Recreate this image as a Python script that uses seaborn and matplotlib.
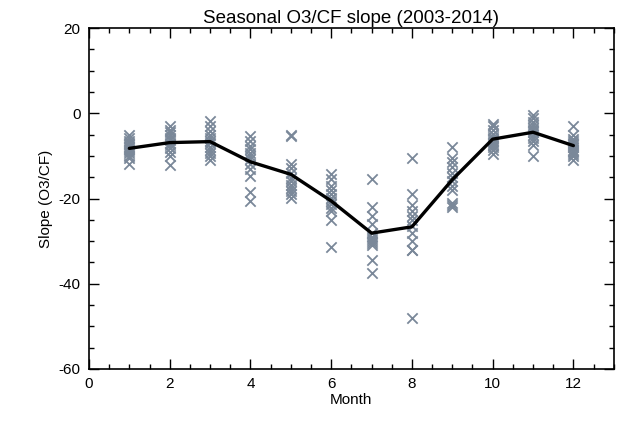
import numpy as np
import pandas as pd
import seaborn as sns
import matplotlib.pyplot as plt
from matplotlib.ticker import MultipleLocator

# slopes per month, 12 years (2003-2014)
months = list(range(1, 13))
m01 = [-5.2, -5.8, -6.5, -7.0, -7.5, -8.0, -8.3, -8.8, -9.3, -10.0, -10.5, -11.8]
m02 = [-3.0, -3.8, -4.5, -5.2, -5.8, -6.3, -7.0, -7.5, -8.2, -9.0, -10.0, -12.2]
m03 = [-1.8, -3.0, -4.2, -5.0, -5.7, -6.5, -7.0, -7.8, -8.5, -9.2, -10.0, -11.0]
m04 = [-5.3, -6.5, -7.6, -8.4, -9.3, -10.0, -10.8, -12.0, -13.0, -14.8, -18.5, -20.5]
m05 = [-5.0, -5.3, -12.0, -12.8, -14.0, -15.3, -16.0, -16.8, -17.5, -18.3, -19.0, -19.8]
m06 = [-14.2, -15.5, -17.0, -18.0, -19.0, -19.8, -20.5, -21.3, -22.2, -23.0, -25.0, -31.3]
m07 = [-15.5, -22.0, -24.0, -26.0, -28.0, -29.0, -29.5, -30.0, -30.5, -31.0, -34.5, -37.5]
m08 = [-10.5, -19.0, -21.5, -23.0, -24.0, -25.0, -26.5, -28.0, -30.0, -32.0, -32.2, -48.0]
m09 = [-8.0, -10.5, -11.5, -12.5, -14.0, -15.0, -16.0, -17.0, -18.0, -21.0, -21.5, -22.0]
m10 = [-2.5, -3.0, -4.0, -4.8, -5.5, -6.0, -6.5, -7.0, -7.5, -8.0, -8.5, -9.5]
m11 = [-0.5, -1.2, -2.0, -2.8, -3.5, -4.0, -4.5, -5.0, -5.8, -6.5, -7.5, -10.0]
m12 = [-3.0, -5.0, -6.0, -6.5, -7.0, -7.5, -8.0, -8.5, -9.0, -9.5, -10.0, -11.0]
slopes = [m01, m02, m03, m04, m05, m06, m07, m08, m09, m10, m11, m12]

df = pd.DataFrame({
    'month': np.repeat(months, 12),
    'slope': np.concatenate(slopes),
})

sns.set_style('ticks')
plt.rcParams['font.family'] = ['Liberation Sans', 'DejaVu Sans']
plt.rcParams['axes.unicode_minus'] = False
plt.rcParams['text.color'] = 'black'
plt.rcParams['axes.labelcolor'] = 'black'
plt.rcParams['xtick.color'] = 'black'
plt.rcParams['ytick.color'] = 'black'
plt.rcParams['axes.edgecolor'] = 'black'

fig = plt.figure(figsize=(6.4, 4.26), dpi=100)
ax = fig.add_axes([0.139, 0.134, 0.82, 0.80])

sns.scatterplot(data=df, x='month', y='slope', marker='x', color='#7a8899',
                s=55, linewidth=1.3, ax=ax, zorder=2)
sns.lineplot(data=df, x='month', y='slope', estimator='mean', errorbar=None,
             color='black', linewidth=2.4, ax=ax, zorder=3)

ax.set_xlim(0, 13)
ax.set_ylim(-60, 20)
ax.xaxis.set_major_locator(MultipleLocator(2))
ax.xaxis.set_minor_locator(MultipleLocator(0.5))
ax.yaxis.set_major_locator(MultipleLocator(20))
ax.yaxis.set_minor_locator(MultipleLocator(5))
ax.tick_params(which='both', direction='in', top=True, right=True, labelsize=11,
               width=1, colors='black')
ax.tick_params(which='major', length=7, pad=6)
ax.tick_params(which='minor', length=3.5)
for sp in ax.spines.values():
    sp.set_linewidth(1.2)
    sp.set_color('black')
    sp.set_visible(True)

ax.set_xlabel('Month', fontsize=11, labelpad=1)
ax.set_ylabel('Slope (O3/CF)', fontsize=11, labelpad=4)
ax.set_title('Seasonal O3/CF slope (2003-2014)', fontsize=13.5, pad=4)

fig.savefig('out.png', dpi=100)
